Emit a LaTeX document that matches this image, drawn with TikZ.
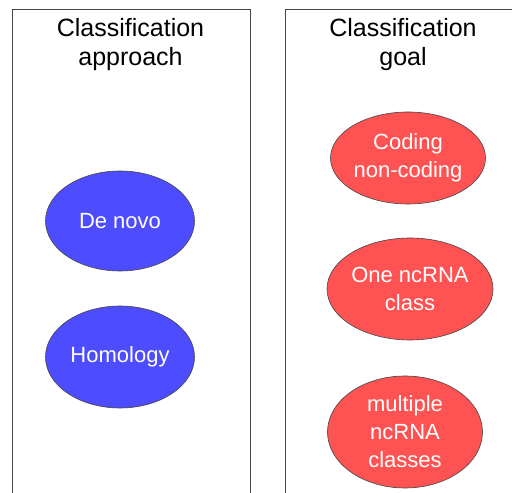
\documentclass[tikz,border=0pt]{standalone}
\usepackage{fontspec}
\setmainfont{Liberation Sans}
\usetikzlibrary{shapes.geometric}
\definecolor{bluefill}{RGB}{77,77,255}
\definecolor{redfill}{RGB}{255,82,82}
\definecolor{edgegray}{RGB}{70,70,70}
\tikzset{
  panel/.style={draw=edgegray, line width=1pt},
  title/.style={align=center, font=\fontsize{25}{29}\selectfont, inner sep=0pt},
  blueell/.style={ellipse, draw=edgegray, line width=0.6pt, fill=bluefill, text=white, inner sep=0pt, align=center, font=\fontsize{22}{28}\selectfont},
  redell/.style={ellipse, draw=edgegray, line width=0.6pt, fill=redfill, text=white, inner sep=0pt, align=center, font=\fontsize{22}{28}\selectfont}
}
\begin{document}
\begin{tikzpicture}[x=1pt,y=1pt]
\useasboundingbox (0,0) rectangle (512,493);
\coordinate (l1) at (12,0);
\coordinate (l2) at (12,483);
\coordinate (l3) at (250,483);
\coordinate (l4) at (250,0);
\coordinate (r1) at (285,0);
\coordinate (r2) at (285,483);
\coordinate (r3) at (512,483);
\draw[panel] (l1) -- (l2) -- (l3) -- (l4);
\draw[panel] (r1) -- (r2) -- (r3);
\node[title] (t1) at (130.5,448) {Classification\\approach};
\node[title] (t2) at (403,448) {Classification\\goal};
\node[blueell, minimum width=149pt, minimum height=100pt] (dn) at (120,272) {De novo};
\node[blueell, minimum width=149pt, minimum height=102pt] (hom) at (120,136) {Homology};
\node[redell, minimum width=155pt, minimum height=92pt] (cod) at (408,335) {Coding\\non-coding};
\node[redell, minimum width=161pt, minimum height=102pt] (one) at (410,204) {One ncRNA\\class};
\node[redell, minimum width=155pt, minimum height=112pt] (mul) at (405,61) {multiple\\ncRNA\\classes};
\end{tikzpicture}
\end{document}
